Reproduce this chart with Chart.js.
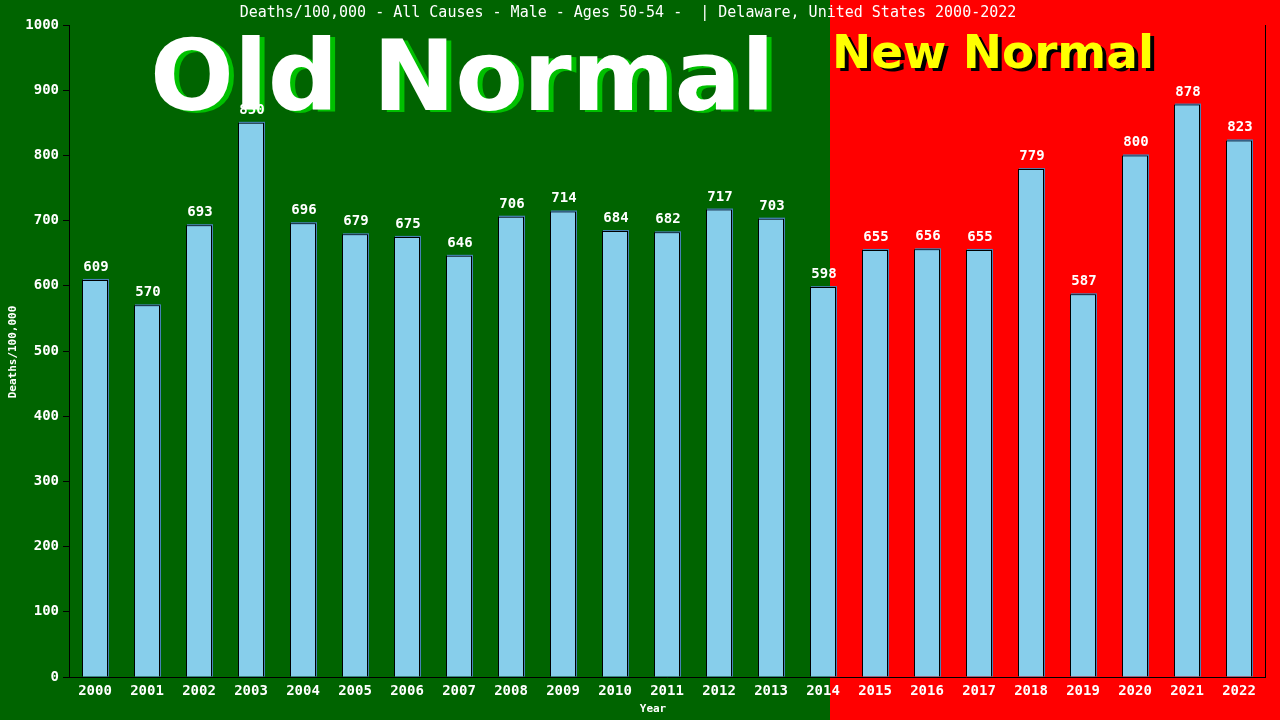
<!DOCTYPE html>
<html>
<head>
<meta charset="utf-8">
<script src="https://cdn.jsdelivr.net/npm/chart.js@4.4.0/dist/chart.umd.min.js"></script>
<style>
  html, body { margin: 0; padding: 0; background: #006400; }
  #wrap { width: 1280px; height: 720px; }
</style>
</head>
<body>
<div id="wrap"><canvas id="chart" width="1280" height="720"></canvas></div>
<script>
// data
const years = ["2000", "2001", "2002", "2003", "2004", "2005", "2006", "2007", "2008", "2009", "2010", "2011",
  "2012", "2013", "2014", "2015", "2016", "2017", "2018", "2019", "2020", "2021", "2022"];
const deaths = [609, 570, 693, 850, 696, 679, 675, 646, 706, 714, 684, 682,
  717, 703, 598, 655, 656, 655, 779, 587, 800, 878, 823];
const yTicks = [0, 100, 200, 300, 400, 500, 600, 700, 800, 900, 1000];

const titleText = "Deaths/100,000 - All Causes - Male - Ages 50-54 -  | Delaware, United States 2000-2022";
const mono = "'DejaVu Sans Mono', monospace";

// green / red background + big headings
const backdrop = {
  id: "backdrop",
  beforeDraw(c) {
    const ctx = c.ctx;
    ctx.save();
    ctx.fillStyle = "#006400";
    ctx.fillRect(0, 0, 1280, 720);
    ctx.fillStyle = "#ff0000";
    ctx.fillRect(830, 0, 450, 720);
    ctx.restore();
  },
  beforeDatasetsDraw(c) {
    const ctx = c.ctx;
    ctx.save();
    // Old Normal
    ctx.font = "bold 100px 'DejaVu Sans', sans-serif";
    let w = ctx.measureText("Old Normal").width;
    let size = 100 * 625 / w;
    ctx.font = "bold " + size + "px 'DejaVu Sans', sans-serif";
    ctx.textAlign = "left";
    ctx.textBaseline = "alphabetic";
    ctx.fillStyle = "#00c000";
    ctx.fillText("Old Normal", 155, 112);
    ctx.fillStyle = "#ffffff";
    ctx.fillText("Old Normal", 150, 110);
    // New Normal
    ctx.font = "bold 50px 'DejaVu Sans', sans-serif";
    w = ctx.measureText("New Normal").width;
    size = 50 * 322 / w;
    ctx.font = "bold " + size + "px 'DejaVu Sans', sans-serif";
    ctx.fillStyle = "#000000";
    ctx.fillText("New Normal", 836, 71);
    ctx.fillStyle = "#ffff00";
    ctx.fillText("New Normal", 832, 68);
    ctx.restore();

    // bar shadow (steel blue, offset up/right)
    const meta = c.getDatasetMeta(0);
    ctx.save();
    ctx.fillStyle = "#4682b4";
    meta.data.forEach(b => {
      const left = b.x - b.width / 2;
      ctx.fillRect(left + 1, b.y - 1, b.width, b.base - b.y + 1);
    });
    ctx.restore();
  },
  afterDraw(c) {
    const ctx = c.ctx;
    const area = c.chartArea;
    ctx.save();
    // right border
    ctx.strokeStyle = "#000";
    ctx.lineWidth = 1;
    ctx.beginPath();
    ctx.moveTo(area.right + 0.5, area.top);
    ctx.lineTo(area.right + 0.5, area.bottom);
    ctx.stroke();

    // value labels
    const meta = c.getDatasetMeta(0);
    ctx.fillStyle = "#ffffff";
    ctx.font = "bold 14px " + mono;
    ctx.textAlign = "center";
    ctx.textBaseline = "alphabetic";
    meta.data.forEach((b, i) => {
      ctx.fillText(String(deaths[i]), b.x + 1, b.y - 9);
    });

    // title
    ctx.font = "15px " + mono;
    ctx.textBaseline = "middle";
    ctx.fillText(titleText, 628, 13);

    // axis titles
    ctx.font = "bold 11px " + mono;
    ctx.fillText("Year", 653, 709);
    ctx.translate(13, 352);
    ctx.rotate(-Math.PI / 2);
    ctx.fillText("Deaths/100,000", 0, 0);
    ctx.restore();
  }
};

new Chart(document.getElementById("chart"), {
  type: "bar",
  data: {
    labels: years,
    datasets: [{
      label: "Deaths/100,000",
      data: deaths,
      backgroundColor: "#87ceeb",
      borderColor: "#000000",
      borderWidth: 1,
      barPercentage: 0.5,
      categoryPercentage: 1.0,
    }],
  },
  options: {
    responsive: false,
    animation: false,
    layout: { padding: { top: 25, right: 15, left: 0, bottom: 0 } },
    plugins: {
      legend: { display: false },
      tooltip: { enabled: false },
      title: { display: false },
    },
    scales: {
      x: {
        grid: { display: false, drawTicks: false },
        border: { display: true, color: "#000000" },
        ticks: {
          color: "#ffffff",
          font: { family: mono, size: 14, weight: "bold" },
          padding: 6,
          maxRotation: 0,
          autoSkip: false,
        },
        afterFit: s => { s.height = 43; },
      },
      y: {
        min: 0,
        max: 1000,
        afterBuildTicks: s => { s.ticks = yTicks.map(v => ({ value: v })); },
        grid: { drawOnChartArea: false, color: "#000000", tickLength: 6 },
        border: { display: true, color: "#000000" },
        ticks: {
          color: "#ffffff",
          font: { family: mono, size: 14, weight: "bold" },
          padding: 4,
          callback: v => String(v),
        },
        afterFit: s => { s.width = 69; },
      },
    },
  },
  plugins: [backdrop],
});
</script>
</body>
</html>
